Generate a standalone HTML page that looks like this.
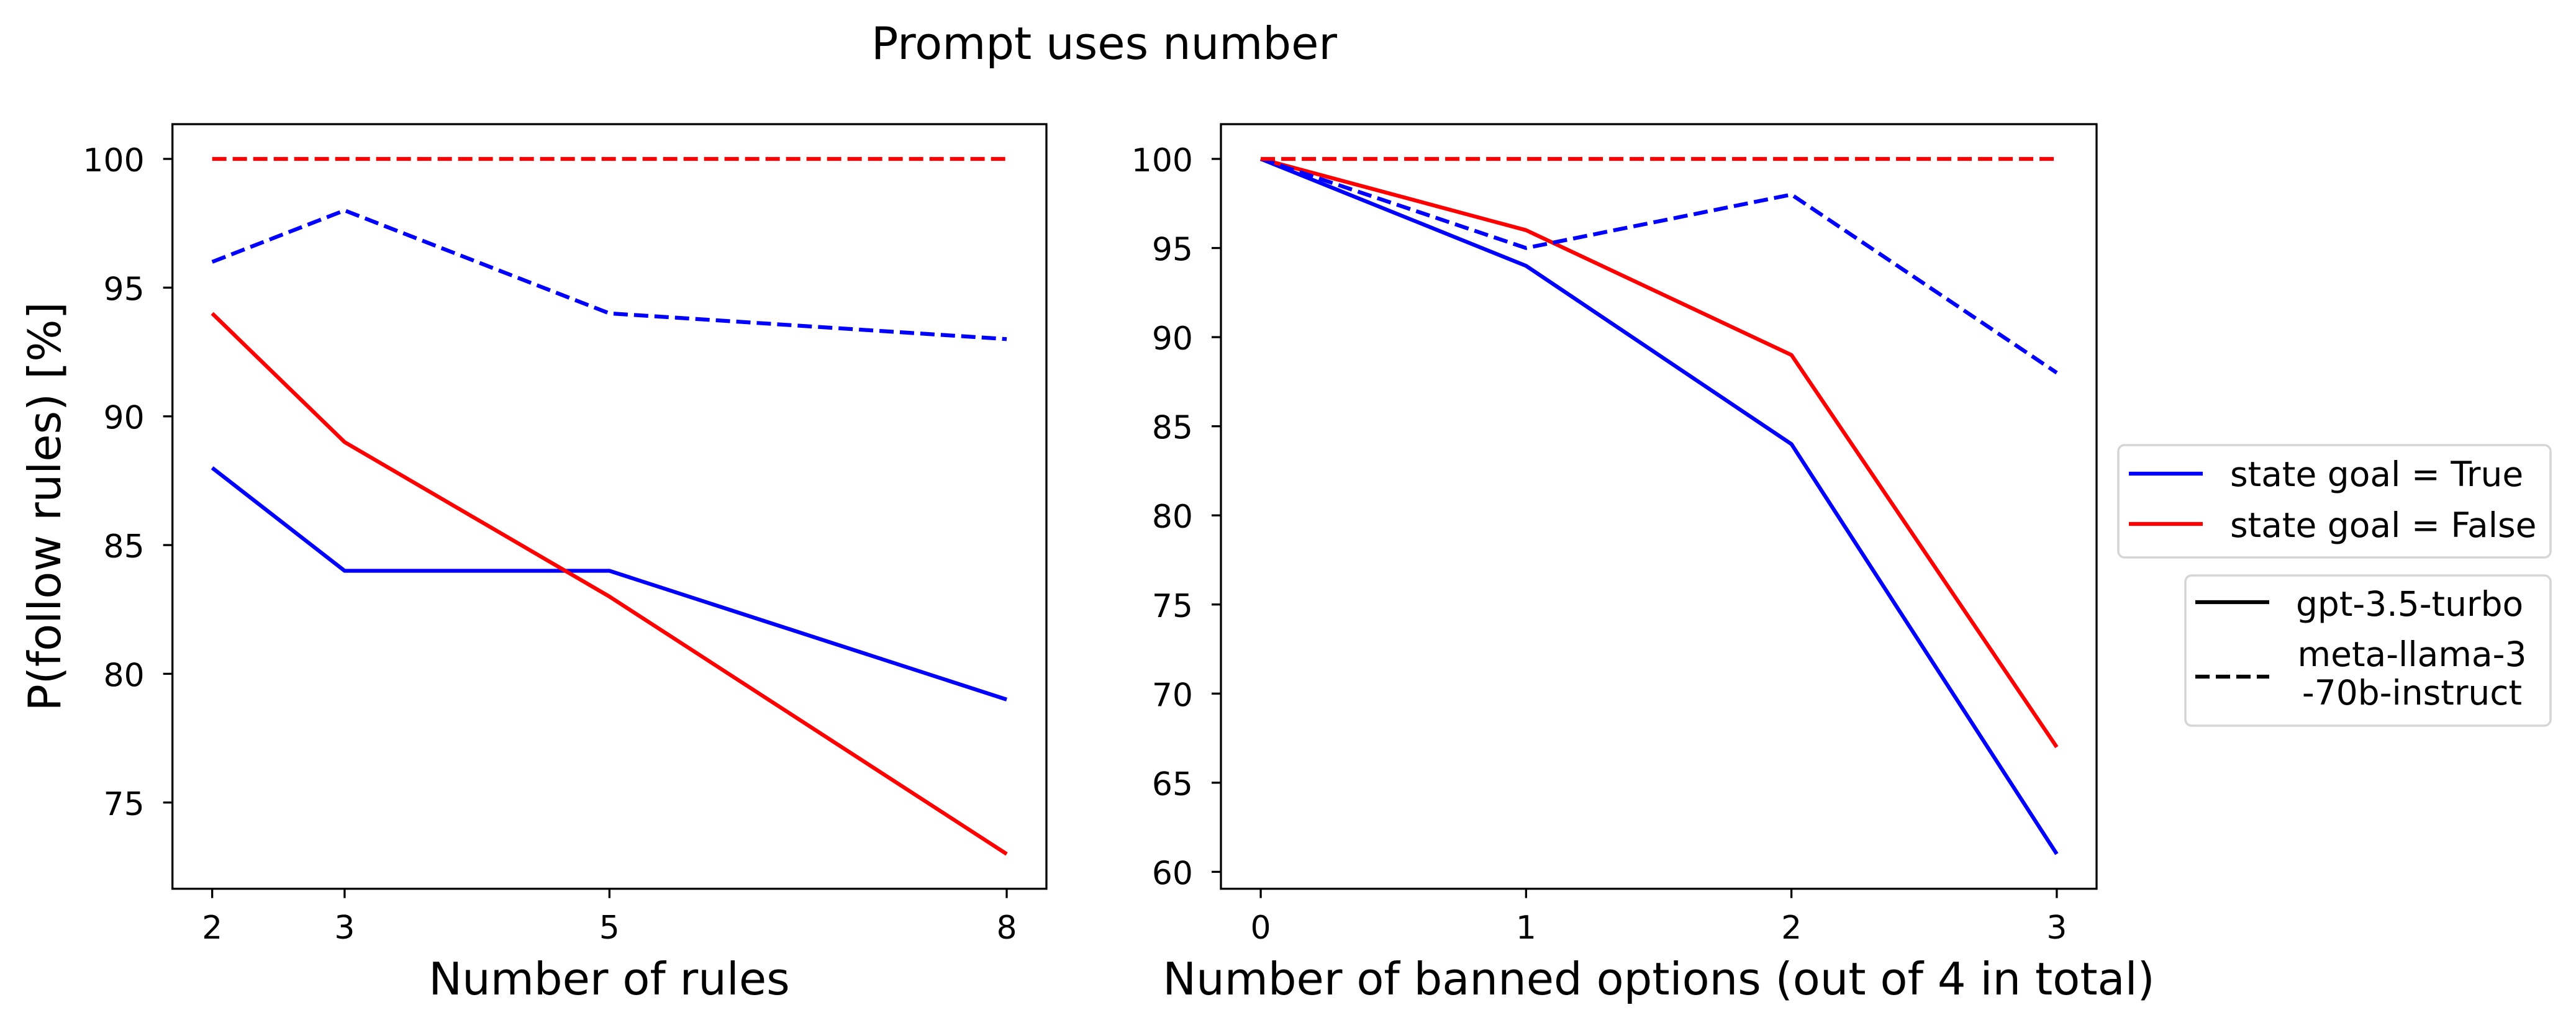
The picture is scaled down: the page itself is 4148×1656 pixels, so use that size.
<!DOCTYPE html>
<html><head><meta charset="utf-8"><style>
html,body{margin:0;padding:0;background:#fff;}
svg{display:block;font-family:"DejaVu Sans","Liberation Sans",sans-serif;}
</style></head><body>
<svg id="fig" width="4148" height="1656" viewBox="0 0 4148 1656" xmlns="http://www.w3.org/2000/svg">
<rect width="4148" height="1656" fill="#fff"/>
<text x="1778" y="95" font-size="72" text-anchor="middle">Prompt uses number</text>
<g id="left"></g>
<g id="right"></g>
<text transform="translate(97,816) rotate(-90)" font-size="72" text-anchor="middle">P(follow rules) [%]</text>
<text x="981" y="1602" font-size="72" text-anchor="middle">Number of rules</text>
<text x="2671" y="1602" font-size="72" text-anchor="middle">Number of banned options (out of 4 in total)</text>
<g>
<rect x="3411" y="717" width="696" height="181" rx="10" fill="#fff" stroke="#d5d5d5" stroke-width="3.5"/>
<line x1="3428" y1="763" x2="3547" y2="763" stroke="#0000ff" stroke-width="6.25"/>
<text x="3591" y="783" font-size="55">state goal = True</text>
<line x1="3428" y1="844" x2="3547" y2="844" stroke="#ff0000" stroke-width="6.25"/>
<text x="3591" y="865" font-size="55">state goal = False</text>
</g>
<g>
<rect x="3519" y="927" width="588" height="242" rx="10" fill="#fff" stroke="#d5d5d5" stroke-width="3.5"/>
<line x1="3535" y1="970" x2="3654" y2="970" stroke="#000" stroke-width="6.25"/>
<text x="3697" y="992" font-size="55">gpt-3.5-turbo</text>
<line x1="3535" y1="1090" x2="3654" y2="1090" stroke="#000" stroke-width="6.25" stroke-dasharray="23,10"/>
<text x="3884" y="1073" font-size="55" text-anchor="middle">meta-llama-3</text>
<text x="3884" y="1135" font-size="55" text-anchor="middle">-70b-instruct</text>
</g>
</svg>
<script>
const leftX = [2, 3, 5, 8];
const leftGptTrue = [88, 84, 84, 79];
const leftGptFalse = [94, 89, 83, 73];
const leftLlamaTrue = [96, 98, 94, 93];
const leftLlamaFalse = [100, 100, 100, 100];
const leftYTicks = [75, 80, 85, 90, 95, 100];
const rightX = [0, 1, 2, 3];
const rightGptTrue = [100, 94, 84, 61];
const rightGptFalse = [100, 96, 89, 67];
const rightLlamaTrue = [100, 95, 98, 88];
const rightLlamaFalse = [100, 100, 100, 100];
const rightYTicks = [60, 65, 70, 75, 80, 85, 90, 95, 100];

const NS = 'http://www.w3.org/2000/svg';
function mk(tag, attrs, parent) {
  const e = document.createElementNS(NS, tag);
  for (const k in attrs) e.setAttribute(k, attrs[k]);
  parent.appendChild(e);
  return e;
}
function panel(g, name, px0, px1, py0, py1, xmin, xmax, ymin, ymax, xs, yt, series) {
  const sx = v => px0 + (v - xmin) / (xmax - xmin) * (px1 - px0);
  const sy = v => py1 - (v - ymin) / (ymax - ymin) * (py1 - py0);
  xs.forEach(v => {
    const t = mk('line', {x1: sx(v), x2: sx(v), y1: py1, y2: py1 + 15, stroke: '#000', 'stroke-width': 3.3}, g);
    
    
    const l = mk('text', {x: sx(v), y: 1512, 'font-size': 52, 'text-anchor': 'middle'}, g);
    l.textContent = v;
    
    
  });
  yt.forEach(v => {
    const t = mk('line', {x1: px0 - 15, x2: px0, y1: sy(v), y2: sy(v), stroke: '#000', 'stroke-width': 3.3}, g);
    
    
    const l = mk('text', {x: px0 - 45, y: sy(v) + 20, 'font-size': 52, 'text-anchor': 'end'}, g);
    l.textContent = v;
    
    
  });
  series.forEach(s => {
    const p = mk('polyline', {points: xs.map((x, i) => sx(x) + ',' + sy(s.v[i])).join(' '), fill: 'none', stroke: s.c, 'stroke-width': 6.25, 'stroke-linejoin': 'round'}, g);
    if (s.d) p.setAttribute('stroke-dasharray', '23,10');
    
    
  });
  const f = mk('rect', {x: px0, y: py0, width: px1 - px0, height: py1 - py0, fill: 'none', stroke: '#000', 'stroke-width': 3.3}, g);
  
  
}
panel(document.getElementById('left'), 'left', 277.7, 1685, 200, 1431.7, 1.7, 8.3, 71.65, 101.35, leftX, leftYTicks, [
  {n: 'line-gpt-true', v: leftGptTrue, c: '#0000ff', d: false},
  {n: 'line-gpt-false', v: leftGptFalse, c: '#ff0000', d: false},
  {n: 'line-llama-true', v: leftLlamaTrue, c: '#0000ff', d: true},
  {n: 'line-llama-false', v: leftLlamaFalse, c: '#ff0000', d: true}
]);
panel(document.getElementById('right'), 'right', 1966, 3376, 200, 1431.7, -0.15, 3.15, 59.05, 101.95, rightX, rightYTicks, [
  {n: 'line-gpt-true', v: rightGptTrue, c: '#0000ff', d: false},
  {n: 'line-gpt-false', v: rightGptFalse, c: '#ff0000', d: false},
  {n: 'line-llama-true', v: rightLlamaTrue, c: '#0000ff', d: true},
  {n: 'line-llama-false', v: rightLlamaFalse, c: '#ff0000', d: true}
]);
</script>
</body></html>
